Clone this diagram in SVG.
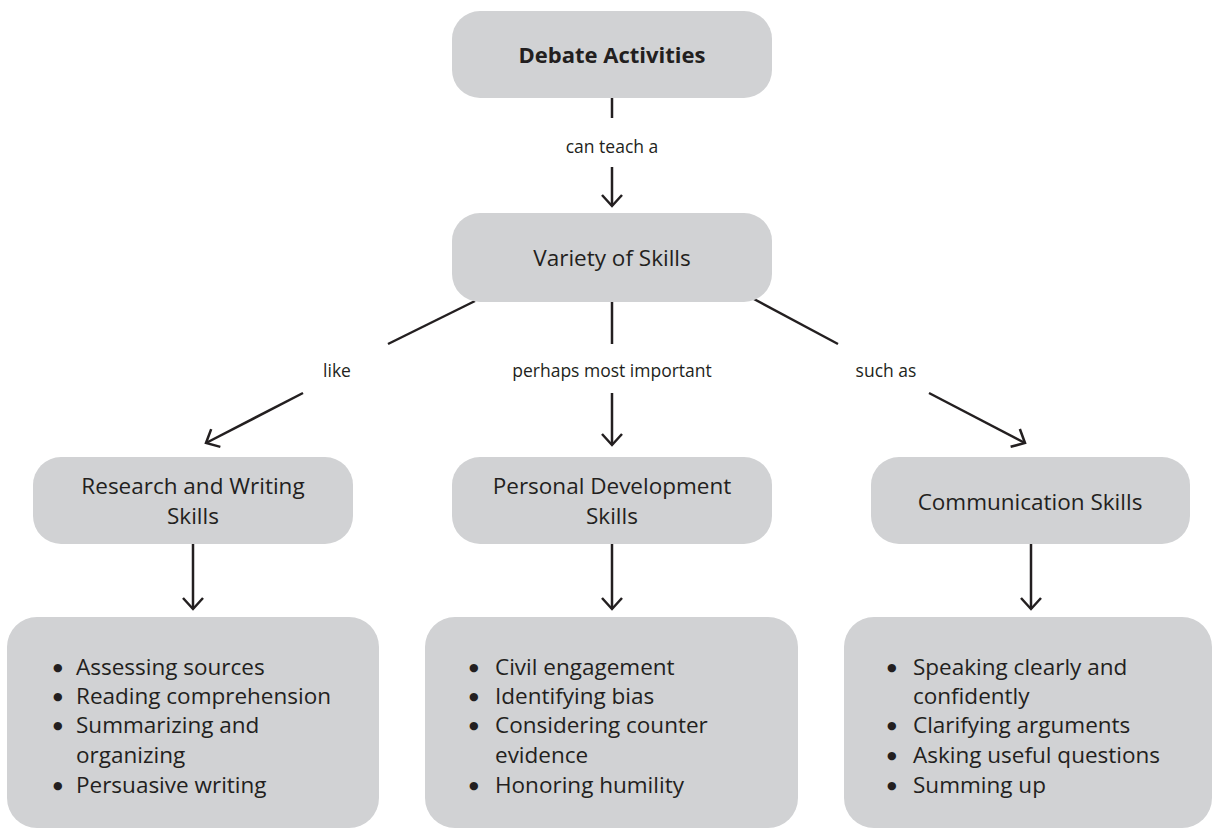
<svg xmlns="http://www.w3.org/2000/svg" width="1212" height="830" viewBox="0 0 1212 830">
<style>
.box{fill:#d1d2d4}
.t{font-family:"Open Sans","Noto Sans",sans-serif;fill:#231f20}
.n{font-size:22.5px;text-anchor:middle}
.b{font-weight:bold;font-size:22px}
.lbl{font-size:17.5px;text-anchor:middle}
.li{font-size:22.5px}
.bu{font-size:11px;font-family:"DejaVu Sans",sans-serif}
.c{stroke:#231f20;stroke-width:2.5;fill:none}
</style>
<defs>
<marker id="ah" markerUnits="userSpaceOnUse" markerWidth="30" markerHeight="30" viewBox="-15 -15 30 30" refX="0" refY="0" orient="auto">
<path d="M-11,-10 L0,0 L-11,10" fill="none" stroke="#231f20" stroke-width="2.5"/>
</marker>
</defs>
<rect width="1212" height="830" fill="#fff"/>
<g id="connectors">
<line class="c" x1="612" y1="98" x2="612" y2="118"/>
<line class="c" x1="612" y1="167" x2="612" y2="206" marker-end="url(#ah)"/>
<line class="c" x1="612" y1="302" x2="612" y2="344"/>
<line class="c" x1="612" y1="393" x2="612" y2="445" marker-end="url(#ah)"/>
<line class="c" x1="475" y1="301" x2="388" y2="344"/>
<line class="c" x1="303" y1="393" x2="206" y2="443" marker-end="url(#ah)"/>
<line class="c" x1="752" y1="298" x2="838" y2="344"/>
<line class="c" x1="929" y1="393" x2="1025" y2="443" marker-end="url(#ah)"/>
<line class="c" x1="193" y1="544" x2="193" y2="609" marker-end="url(#ah)"/>
<line class="c" x1="612" y1="544" x2="612" y2="609" marker-end="url(#ah)"/>
<line class="c" x1="1031" y1="544" x2="1031" y2="609" marker-end="url(#ah)"/>
<text class="t lbl" x="612" y="153">can teach a</text>
<text class="t lbl" x="337" y="377">like</text>
<text class="t lbl" x="612" y="377">perhaps most important</text>
<text class="t lbl" x="886" y="377">such as</text>
</g>
<g id="debate">
<rect class="box" x="452" y="11" width="320" height="87" rx="28"/>
<text class="t n b" x="612" y="63">Debate Activities</text>
</g>
<g id="variety">
<rect class="box" x="452" y="213" width="320" height="89" rx="28"/>
<text class="t n" x="612" y="266">Variety of Skills</text>
</g>
<g id="research">
<rect class="box" x="33" y="457" width="320" height="87" rx="28"/>
<text class="t n" x="193" y="494">Research and Writing</text>
<text class="t n" x="193" y="524">Skills</text>
</g>
<g id="personal">
<rect class="box" x="452" y="457" width="320" height="87" rx="28"/>
<text class="t n" x="612" y="494">Personal Development</text>
<text class="t n" x="612" y="524">Skills</text>
</g>
<g id="communication">
<rect class="box" x="871" y="457" width="319" height="87" rx="28"/>
<text class="t n" x="1030" y="510">Communication Skills</text>
</g>
<g id="research-list">
<rect class="box" x="7" y="617" width="372" height="211" rx="30"/>
<text class="t li">
<tspan class="bu" x="53" y="671">●</tspan><tspan x="76" y="675">Assessing sources</tspan>
<tspan class="bu" x="53" y="700">●</tspan><tspan x="76" y="704">Reading comprehension</tspan>
<tspan class="bu" x="53" y="729">●</tspan><tspan x="76" y="733">Summarizing and</tspan>
<tspan x="76" y="763">organizing</tspan>
<tspan class="bu" x="53" y="789">●</tspan><tspan x="76" y="793">Persuasive writing</tspan>
</text>
</g>
<g id="personal-list">
<rect class="box" x="425" y="617" width="373" height="211" rx="30"/>
<text class="t li">
<tspan class="bu" x="469" y="671">●</tspan><tspan x="495" y="675">Civil engagement</tspan>
<tspan class="bu" x="469" y="700">●</tspan><tspan x="495" y="704">Identifying bias</tspan>
<tspan class="bu" x="469" y="729">●</tspan><tspan x="495" y="733">Considering counter</tspan>
<tspan x="495" y="763">evidence</tspan>
<tspan class="bu" x="469" y="789">●</tspan><tspan x="495" y="793">Honoring humility</tspan>
</text>
</g>
<g id="communication-list">
<rect class="box" x="844" y="617" width="368" height="211" rx="30"/>
<text class="t li">
<tspan class="bu" x="887" y="671">●</tspan><tspan x="913" y="675">Speaking clearly and</tspan>
<tspan x="913" y="704">confidently</tspan>
<tspan class="bu" x="887" y="729">●</tspan><tspan x="913" y="733">Clarifying arguments</tspan>
<tspan class="bu" x="887" y="759">●</tspan><tspan x="913" y="763">Asking useful questions</tspan>
<tspan class="bu" x="887" y="789">●</tspan><tspan x="913" y="793">Summing up</tspan>
</text>
</g>
</svg>
